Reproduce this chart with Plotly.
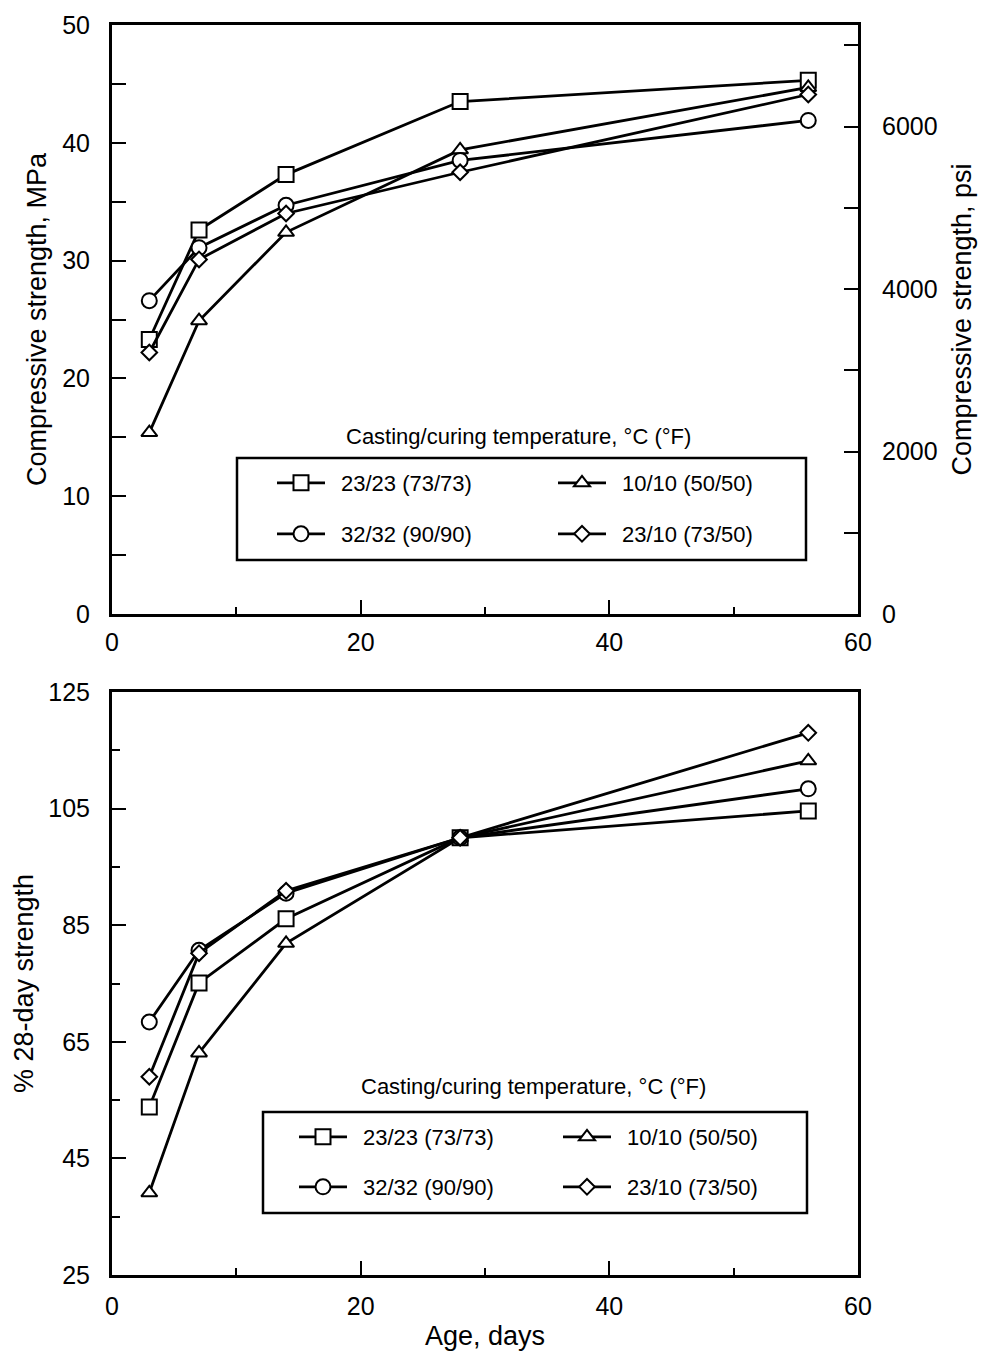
import plotly.graph_objects as go

# ---------------- data ----------------
age_days = [3, 7, 14, 28, 56]

series_labels = ["23/23 (73/73)", "10/10 (50/50)", "32/32 (90/90)", "23/10 (73/50)"]
series_symbols = ["square", "triangle-up", "circle", "diamond"]

# compressive strength, MPa
mpa_23_23 = [23.3, 32.6, 37.3, 43.5, 45.3]
mpa_10_10 = [15.4, 24.9, 32.4, 39.4, 44.7]
mpa_32_32 = [26.6, 31.1, 34.7, 38.5, 41.9]
mpa_23_10 = [22.2, 30.1, 34.0, 37.5, 44.1]

# % of 28-day strength
pct_23_23 = [53.8, 75.1, 86.1, 100.0, 104.6]
pct_10_10 = [39.1, 63.1, 81.9, 100.0, 113.2]
pct_32_32 = [68.4, 80.7, 90.5, 100.0, 108.4]
pct_23_10 = [59.0, 80.2, 90.9, 100.0, 118.0]

x_ticks = [0, 20, 40, 60]
mpa_ticks = [0, 10, 20, 30, 40, 50]
psi_ticks = [0, 2000, 4000, 6000]
pct_ticks = [25, 45, 65, 85, 105, 125]

MPA_TO_PSI = 145.038
legend_title = "Casting/curing temperature, °C (°F)"

# ---------------- layout helpers ----------------
W, H = 982, 1361
FONT = "Liberation Sans, Arial, Helvetica, sans-serif"
TICK_SIZE = 25
TITLE_SIZE = 27
LEG_SIZE = 22


def fx(p):
    return p / W


def fy(p):
    return 1 - p / H


top_series = [mpa_23_23, mpa_10_10, mpa_32_32, mpa_23_10]
bot_series = [pct_23_23, pct_10_10, pct_32_32, pct_23_10]
symbol_sizes = {"square": 15, "triangle-up": 14, "circle": 15, "diamond": 12}
PAD = "\u2002"  # small lead-in gap between legend symbol and its text

fig = go.Figure()

for i, (lab, sym, vals) in enumerate(zip(series_labels, series_symbols, top_series)):
    fig.add_trace(go.Scatter(
        x=age_days, y=vals, name=PAD + lab, mode="lines+markers",
        xaxis="x", yaxis="y",
        legend="legend" if i < 2 else "legend2",
        line=dict(color="black", width=2.8),
        marker=dict(symbol=sym, size=symbol_sizes[sym], color="white",
                    line=dict(color="black", width=2)),
    ))

# invisible companion so the psi axis (same data, psi units) is drawn
fig.add_trace(go.Scatter(
    x=age_days, y=[v * MPA_TO_PSI for v in mpa_23_23],
    xaxis="x", yaxis="y2", mode="markers",
    marker=dict(opacity=0, size=1), showlegend=False, hoverinfo="skip",
))

for i, (lab, sym, vals) in enumerate(zip(series_labels, series_symbols, bot_series)):
    fig.add_trace(go.Scatter(
        x=age_days, y=vals, name=PAD + lab, mode="lines+markers",
        xaxis="x2", yaxis="y3",
        legend="legend3" if i < 2 else "legend4",
        line=dict(color="black", width=2.8),
        marker=dict(symbol=sym, size=symbol_sizes[sym], color="white",
                    line=dict(color="black", width=2)),
    ))

axis_common = dict(
    showline=True, linecolor="black", linewidth=3,
    showgrid=False, zeroline=False, automargin=False,
    ticks="inside", ticklen=14, tickwidth=2, tickcolor="black",
    tickfont=dict(family=FONT, size=TICK_SIZE, color="black"),
    title_font=dict(family=FONT, size=TITLE_SIZE, color="black"),
)

xdom = [fx(112), fx(858)]

layout_legend = dict(
    orientation="h", xanchor="left", yanchor="middle",
    bgcolor="rgba(0,0,0,0)", borderwidth=0,
    font=dict(family=FONT, size=LEG_SIZE, color="black"),
    itemwidth=48, entrywidthmode="pixels", itemclick=False,
)

fig.update_layout(
    width=W, height=H,
    margin=dict(l=0, r=0, t=0, b=0, autoexpand=False),
    paper_bgcolor="white", plot_bgcolor="white",
    font=dict(family=FONT, color="black"),
    xaxis=dict(domain=xdom, anchor="y", range=[0, 60], tickvals=x_ticks,
               mirror=True, ticklabelstandoff=4,
               minor=dict(dtick=10, tick0=0, ticks="inside", ticklen=7,
                          tickwidth=2, tickcolor="black"),
               **axis_common),
    yaxis=dict(domain=[fy(614), fy(25)], anchor="x", range=[0, 50],
               tickvals=mpa_ticks, ticklabelstandoff=14,
               title=dict(text="Compressive strength, MPa", standoff=8),
               minor=dict(dtick=5, tick0=0, ticks="inside", ticklen=14,
                          tickwidth=2, tickcolor="black"),
               **axis_common),
    yaxis2=dict(overlaying="y", side="right", anchor="x",
                range=[0, 50 * MPA_TO_PSI], tickvals=psi_ticks,
                ticklabelstandoff=16,
                title=dict(text="Compressive strength, psi", standoff=16),
                minor=dict(dtick=1000, tick0=0, ticks="inside", ticklen=14,
                           tickwidth=2, tickcolor="black"),
                **axis_common),
    xaxis2=dict(domain=xdom, anchor="y3", range=[0, 60], tickvals=x_ticks,
                mirror=True, ticklabelstandoff=7,
                title=dict(text="Age, days", standoff=8),
                minor=dict(dtick=10, tick0=0, ticks="inside", ticklen=7,
                           tickwidth=2, tickcolor="black"),
                **axis_common),
    yaxis3=dict(domain=[fy(1275), fy(692)], anchor="x2", range=[25, 125],
                tickvals=pct_ticks, mirror=True, ticklabelstandoff=14,
                title=dict(text="% 28-day strength", standoff=7),
                minor=dict(dtick=10, tick0=35, ticks="inside", ticklen=8,
                           tickwidth=2, tickcolor="black"),
                **axis_common),
    legend=dict(x=fx(272), y=fy(483), entrywidth=218, **layout_legend),
    legend2=dict(x=fx(272), y=fy(534), entrywidth=218, **layout_legend),
    legend3=dict(x=fx(294), y=fy(1137), entrywidth=201, **layout_legend),
    legend4=dict(x=fx(294), y=fy(1187), entrywidth=201, **layout_legend),
    showlegend=True,
)

# legend frames and legend titles (title sits above the frame)
fig.add_shape(type="rect", xref="paper", yref="paper",
              x0=fx(237), x1=fx(806), y0=fy(560), y1=fy(458),
              line=dict(color="black", width=2.5))
fig.add_shape(type="rect", xref="paper", yref="paper",
              x0=fx(263), x1=fx(807), y0=fy(1213), y1=fy(1112),
              line=dict(color="black", width=2.5))
fig.add_annotation(text=legend_title, xref="paper", yref="paper",
                   x=fx(518), y=fy(436), showarrow=False,
                   xanchor="center", yanchor="middle",
                   font=dict(family=FONT, size=LEG_SIZE, color="black"))
fig.add_annotation(text=legend_title, xref="paper", yref="paper",
                   x=fx(533), y=fy(1086), showarrow=False,
                   xanchor="center", yanchor="middle",
                   font=dict(family=FONT, size=LEG_SIZE, color="black"))

fig.write_html("out.html")
